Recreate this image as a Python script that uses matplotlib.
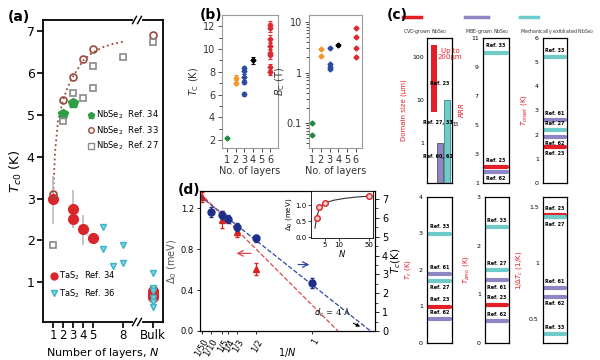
import numpy as np
import matplotlib.pyplot as plt
from matplotlib.lines import Line2D

plt.rcParams['font.family'] = ['DejaVu Sans']
plt.rcParams['mathtext.fontset'] = 'dejavusans'

# ---------------- panel (a) data ----------------
a_xticks = [1, 2, 3, 4, 5, 8, 11]
a_xticklabels = ['1', '2', '3', '4', '5', '8', 'Bulk']
a_break = 9.4

nb34_N = [2, 3]
nb34_T = [5.03, 5.28]
nb33_N = [1, 2, 3, 4, 5, 11]
nb33_T = [3.12, 5.35, 5.9, 6.33, 6.58, 6.92]
nb27_N = [1, 2, 3, 4, 5, 5, 8, 11]
nb27_T = [1.88, 4.86, 5.52, 5.4, 5.64, 6.17, 6.39, 6.74]
fit_N = [1.0, 1.2, 1.5, 2, 2.5, 3, 4, 5, 6, 7, 8]
fit_T = [3.0, 4.1, 4.85, 5.36, 5.68, 5.92, 6.3, 6.5, 6.62, 6.7, 6.75]
ta34_N = [1, 3, 3, 4, 5, 11, 11, 11]
ta34_T = [2.98, 2.74, 2.52, 2.27, 2.07, 0.78, 0.70, 0.65]
ta34_lo = [0.58, 0.44, 0.22, 0.37, 0.0, 0.08, 0.08, 0.08]
ta34_hi = [0.55, 0.46, 0.0, 0.33, 0.0, 0.08, 0.08, 0.08]
ta36_N = [6, 6, 7, 8, 8, 11, 11, 11, 11, 11, 11]
ta36_T = [2.33, 1.8, 1.38, 1.88, 1.46, 1.22, 0.87, 0.8, 0.63, 0.52, 0.40]

# ---------------- panel (b) data ----------------
b_layers = [1, 2, 3, 4, 6]
b_colors = ['#1e8c3a', '#f0962a', '#2a4ca0', '#000000', '#e0282f']
tc_vals = [[2.15], [7.5, 7.05], [8.3, 8.05, 7.55, 7.1, 6.05], [9.0],
           [12.1, 11.9, 10.9, 10.3, 9.65, 9.45, 8.45, 7.95]]
bc_vals = [[0.1, 0.058], [2.9, 2.1], [3.1, 1.45, 1.3, 1.16], [3.5],
           [7.8, 5.1, 3.0, 2.0]]

# ---------------- panel (d) data ----------------
d_xticks = [0.02, 0.1, 0.2, 0.25, 1/3, 0.5, 1.0]
d_xticklabels = ['1/50', '1/10', '1/5', '1/4', '1/3', '1/2', '1']
tc_invN = [0.1, 0.2, 0.25, 1/3, 0.5, 1.0]
tc_d = [6.3, 6.14, 5.93, 5.5, 4.92, 2.54]
tc_err = [0.25, 0.2, 0.2, 0.2, 0.18, 0.28]
gap_invN = [0.02, 0.2, 1/3, 0.5]
gap_d = [1.31, 1.09, 0.97, 0.61]
gap_err = [0.05, 0.08, 0.05, 0.06]
tc_fit_x = [0.0, 1.52]
tc_fit_y = [7.15, 0.0]
gap_fit_x = [0.0, 1.23]
gap_fit_y = [1.35, 0.0]
ins_pos = [2, 3, 5, 20.7]          # N = 2, 3, 5, 50 (broken axis)
ins_gap = [0.59, 0.94, 1.06, 1.28]
ins_fit_x = [1.4, 2, 3, 5, 8, 12, 16, 20.7]
ins_fit_y = [0.28, 0.6, 0.92, 1.07, 1.15, 1.21, 1.25, 1.28]

# ---------------- panel (c) data ----------------
RED, PUR, CYA = '#e31e26', '#8c86c4', '#6fcaca'
dom_bottom = [5.3, 0.12, 0.12]
dom_top = [190, 1.0, 10.0]
dom_colors = [RED, PUR, CYA]
c_panels = [
    # ylabel, ylim, yticks, values, colours, labels, label above?
    ('$RRR$', (1, 11), [1, 3, 5, 7, 9, 11],
     [10.0, 2.1, 1.76], [CYA, RED, PUR], ['Ref. 33', 'Ref. 23', 'Ref. 62'], [1, 1, 0]),
    ('$T_{onset}$ (K)', (0, 6), [0, 1, 2, 3, 4, 5, 6],
     [5.2, 2.6, 2.2, 1.9, 1.5], [CYA, PUR, CYA, PUR, RED],
     ['Ref. 33', 'Ref. 61', 'Ref. 27', 'Ref. 62', 'Ref. 23'], [1, 1, 1, 0, 0]),
    ('$T_c$ (K)', (0, 4), [0, 1, 2, 3, 4],
     [3.0, 1.9, 1.7, 1.0, 0.65], [CYA, PUR, CYA, RED, PUR],
     ['Ref. 33', 'Ref. 61', 'Ref. 27', 'Ref. 23', 'Ref. 62'], [1, 1, 0, 1, 1]),
    ('$T_{zero}$ (K)', (0, 3), [0, 1, 2, 3],
     [2.39, 1.5, 1.29, 0.79, 0.45], [CYA, CYA, PUR, RED, PUR],
     ['Ref. 33', 'Ref. 27', 'Ref. 61', 'Ref. 23', 'Ref. 62'], [1, 1, 0, 1, 1]),
    ('1/$\\Delta T_c$ (1/K)', (0.29, 1.59), [0.5, 1.0, 1.5],
     [1.43, 1.41, 0.78, 0.70, 0.37], [RED, CYA, PUR, PUR, CYA],
     ['Ref. 23', 'Ref. 27', 'Ref. 61', 'Ref. 62', 'Ref. 33'], [1, 0, 1, 0, 1]),
]

W, H = 600, 360
fig = plt.figure(figsize=(6, 3.6), dpi=100)


def px_axes(x0, y0, x1, y1, **kw):
    return fig.add_axes([x0 / W, 1 - y1 / H, (x1 - x0) / W, (y1 - y0) / H], **kw)


# ================= (a) =================
ax = px_axes(43, 20, 163, 322)
ax.plot(fit_N, fit_T, ':', color='#9b4a3a', lw=1.3)
ax.errorbar(ta34_N, ta34_T, yerr=[ta34_lo, ta34_hi], fmt='o', color='#d9262a',
            ms=7, ecolor='#bbbbbb', elinewidth=1.2, capsize=0, zorder=3)
ax.plot(nb34_N, nb34_T, 'p', color='#2e9e47', ms=7, zorder=4)
ax.plot(nb33_N, nb33_T, 'o', mfc='none', mec='#9b4a3a', mew=1.2, ms=5, zorder=4)
ax.plot(nb27_N, nb27_T, 's', mfc='none', mec='#8a8a8a', mew=1.2, ms=5, zorder=4)
ax.plot(ta36_N, ta36_T, 'v', mfc='#7fd3e0', mec='#3cb4c8', ms=5, zorder=4)
ax.set_xlim(0, 12)
ax.set_ylim(0.05, 7.27)
ax.set_xticks(a_xticks)
ax.set_xticklabels(a_xticklabels)
ax.set_yticks([1, 2, 3, 4, 5, 6, 7])
ax.tick_params(labelsize=9, width=1.2, length=4, pad=2)
ax.tick_params(axis='x', labelsize=8.5, pad=1)
for s in ax.spines.values():
    s.set_linewidth(1.3)
ax.set_xlabel('Number of layers, $N$', fontsize=8)
ax.xaxis.set_label_coords(0.5, -0.078)
ax.set_ylabel('$T_{c0}$ (K)', fontsize=9.5, labelpad=2)
# axis break marks
for yy in (0, 1):
    ax.plot([a_break - 0.25, a_break + 0.25], [yy, yy], color='white', lw=3,
            transform=ax.get_xaxis_transform(), clip_on=False, zorder=5)
    for dx in (-0.25, 0.25):
        ax.plot([a_break + dx - 0.2, a_break + dx + 0.2], [yy - 0.012, yy + 0.012],
                color='black', lw=1, transform=ax.get_xaxis_transform(),
                clip_on=False, zorder=6)
leg1 = ax.legend(handles=[
    Line2D([], [], ls='', marker='p', color='#2e9e47', ms=5),
    Line2D([], [], ls='', marker='o', mfc='none', mec='#9b4a3a', ms=4),
    Line2D([], [], ls='', marker='s', mfc='none', mec='#8a8a8a', ms=4)],
    labels=['NbSe$_2$  Ref. 34', 'NbSe$_2$  Ref. 33', 'NbSe$_2$  Ref. 27'],
    loc='upper left', bbox_to_anchor=(0.33, 0.72), frameon=False, fontsize=6,
    handletextpad=0.1, borderpad=0, labelspacing=0.35, handlelength=1)
ax.add_artist(leg1)
ax.legend(handles=[
    Line2D([], [], ls='', marker='o', color='#d9262a', ms=5),
    Line2D([], [], ls='', marker='v', mfc='#7fd3e0', mec='#3cb4c8', ms=4)],
    labels=['TaS$_2$  Ref. 34', 'TaS$_2$  Ref. 36'],
    loc='lower left', bbox_to_anchor=(0.02, 0.06), frameon=False, fontsize=6,
    handletextpad=0.1, borderpad=0, labelspacing=0.6, handlelength=1)
fig.text(8 / W, 1 - 17 / H, '(a)', fontsize=10, fontweight='bold', va='center')

# ================= (b) =================
grey = '#9a9a9a'
axb1 = px_axes(222, 15, 278, 148)
axb2 = px_axes(309, 15, 362, 148)
for axb, vals in ((axb1, tc_vals), (axb2, bc_vals)):
    for n, c, v in zip(b_layers, b_colors, vals):
        axb.errorbar([n] * len(v), v, yerr=np.array(v) * 0.03, fmt='D', color=c,
                     ms=2.5, elinewidth=0.8, capsize=1.2, capthick=0.8)
    axb.set_xticks([1, 2, 3, 4, 5, 6])
    axb.set_xticklabels(['1', '2', '3', '4', '5', '6'])
    axb.tick_params(labelsize=7, colors='#333333', length=3, width=0.6, pad=2)
    axb.tick_params(which='minor', length=2, width=0.5)
    for s in axb.spines.values():
        s.set_color(grey)
        s.set_linewidth(0.8)
    axb.set_xlabel('No. of layers', fontsize=7, color='#333333', labelpad=1)
axb1.set_xlim(0.4, 6.9)
axb1.set_ylim(1.3, 13)
axb1.set_yticks([2, 4, 6, 8, 10, 12])
axb1.set_yticks(np.arange(2, 13, 1), minor=True)
axb1.set_ylabel('$T_{\\rm C}$ (K)', fontsize=7, color='#333333', labelpad=1)
axb2.set_yscale('log')
axb2.set_xlim(0.65, 6.7)
axb2.set_ylim(0.032, 13.8)
axb2.set_yticks([0.1, 1, 10])
axb2.set_yticklabels(['0.1', '1', '10'])
axb2.set_ylabel('$B_{\\rm C}$ (T)', fontsize=7, color='#333333', labelpad=0)
fig.text(200 / W, 1 - 15 / H, '(b)', fontsize=10, fontweight='bold', va='center')

# ================= (d) =================
axd = px_axes(200, 191, 375, 331)
axd2 = axd.twinx()
axd.plot(gap_fit_x, gap_fit_y, '--', color='#e0484b', lw=0.9)
axd2.plot(tc_fit_x, tc_fit_y, '--', color='#3048a0', lw=0.9)
axd.errorbar(gap_invN, gap_d, yerr=gap_err, fmt='^', color='#e02020', ms=5,
             elinewidth=0.8, capsize=1.5, zorder=4)
axd2.errorbar(tc_invN, tc_d, yerr=tc_err, fmt='o', color='#1e2f8a', ms=5,
              elinewidth=0.8, capsize=1.5, zorder=3)
axd.set_xlim(0, 1.56)
axd.set_ylim(0, 1.37)
axd2.set_ylim(0, 7.42)
axd.set_xticks(d_xticks)
axd.set_xticklabels(d_xticklabels, rotation=60, fontsize=4.5, ha='right',
                    rotation_mode='anchor')
axd.set_yticks([0.0, 0.4, 0.8, 1.2])
axd.set_yticklabels(['0.0', '0.4', '0.8', '1.2'])
axd.tick_params(labelsize=6, length=2.5, width=0.6, pad=2)
axd2.set_yticks(range(8))
axd2.set_yticks(np.arange(0, 7.5, 0.5), minor=True)
axd2.tick_params(labelsize=7, length=3, width=0.6, pad=2)
axd2.tick_params(which='minor', length=1.8, width=0.5)
axd.set_xlabel('1/$N$', fontsize=7)
axd.xaxis.set_label_coords(0.5, -0.11)
axd.set_ylabel('$\\Delta_0$ (meV)', fontsize=7, labelpad=1, color='#555555')
axd2.set_ylabel('$T_c$(K)', fontsize=7.5, labelpad=1)
axd.annotate('', xy=(0.3, 0.76), xytext=(0.48, 0.76),
             arrowprops=dict(arrowstyle='->', color='#e0484b', lw=0.9))
axd.annotate('', xy=(1.0, 0.65), xytext=(0.85, 0.65),
             arrowprops=dict(arrowstyle='->', color='#3048a0', lw=0.9))
axd.annotate('$d_c$ = 4 Å', xy=(1.45, 0.03), xytext=(1.02, 0.15), fontsize=6,
             fontfamily='DejaVu Serif',
             arrowprops=dict(arrowstyle='-|>', color='black', lw=0.8,
                             mutation_scale=5))
fig.text(178 / W, 1 - 190 / H, '(d)', fontsize=10, fontweight='bold', va='center')

ins = px_axes(311, 191, 373, 238)
ins.plot(ins_fit_x, ins_fit_y, color='#333333', lw=0.8)
ins.plot(ins_pos, ins_gap, 'o', mfc='#f5d0d0', mec='#e02020', mew=1, ms=4)
ins.set_xlim(0, 22)
ins.set_ylim(-0.03, 1.44)
ins.set_xticks([5, 10, 20.7])
ins.set_xticklabels(['5', '10', '50'])
ins.set_yticks([0.0, 0.5, 1.0])
ins.set_yticklabels(['0.0', '0.5', '1.0'])
ins.tick_params(labelsize=5, length=2, width=0.5, pad=1)
ins.set_xlabel('$N$', fontsize=6, labelpad=0)
ins.set_ylabel('$\\Delta_0$ (meV)', fontsize=5, labelpad=1)
for s in ins.spines.values():
    s.set_linewidth(0.6)

# ================= (c) =================
fig.text(387 / W, 1 - 15 / H, '(c)', fontsize=10, fontweight='bold', va='center')
for (x0, x1), col, lab in zip([(403, 421), (465, 488), (520, 538)], [RED, PUR, CYA],
                              ['CVD-grown NbSe$_2$', 'MBE-grown NbSe$_2$',
                               'Mechanically exfoliated NbSe$_2$']):
    fig.add_artist(Line2D([x0 / W, x1 / W], [1 - 17 / H] * 2, color=col, lw=2.5))
    fig.text(x0 / W, 1 - 31 / H, lab, fontsize=3.4, color='#333333', va='center')

# domain size bars
axc = px_axes(427, 38, 452, 183)
axc.bar([0, 1, 2], np.array(dom_top) - np.array(dom_bottom), bottom=dom_bottom,
        width=0.92, color=dom_colors, edgecolor=['none', '#555555', '#3a8a8a'],
        linewidth=0.6)
axc.set_yscale('log')
axc.set_xlim(-1, 2.8)
axc.set_ylim(0.12, 280)
axc.set_xticks([])
axc.set_yticks([1, 10, 100])
axc.set_yticklabels(['1', '10', '100'])
axc.minorticks_off()
axc.tick_params(labelsize=4.5, length=0, pad=2)
axc.set_ylabel('Domain size (μm)', fontsize=5, color=RED, labelpad=4)
axc.text(2.5, 120, 'Up to\n200μm', color=RED, fontsize=5, ha='center', va='center',
         linespacing=1.0)
axc.text(1.0, 25, 'Ref. 23', fontsize=3.5, fontweight='bold', ha='center', va='center')
axc.text(0.6, 3.0, 'Ref. 27, 33', fontsize=3.5, fontweight='bold', ha='center',
         va='center')
axc.text(3.4, 2.8, '15', fontsize=3.5, ha='center', va='center')
axc.text(0.6, 0.5, 'Ref. 60, 62', fontsize=3.5, fontweight='bold', ha='center',
         va='center')
for s in axc.spines.values():
    s.set_linewidth(0.9)

c_boxes = [(483, 38, 509, 183), (543, 38, 567, 183),
           (427, 197, 452, 343), (485, 197, 509, 343), (543, 197, 567, 343)]
for box, (ylab, ylim, yt, vals, cols, labs, above) in zip(c_boxes, c_panels):
    a = px_axes(*box)
    span = ylim[1] - ylim[0]
    for v, c, lb, up in zip(vals, cols, labs, above):
        a.plot([0.08, 0.92], [v, v], color=c, lw=3, solid_capstyle='round')
        a.text(0.5, v + (0.028 if up else -0.03) * span, lb, fontsize=3.5,
               fontweight='bold', ha='center', va='bottom' if up else 'top')
    a.set_xlim(0, 1)
    a.set_ylim(*ylim)
    a.set_xticks([])
    a.set_yticks(yt)
    a.set_yticklabels([('%g' % t) if t != int(t) or ylim[1] < 2 else '%d' % t for t in yt])
    a.tick_params(labelsize=4.5, length=0, pad=3)
    a.set_ylabel(ylab, fontsize=5, color=RED, labelpad=4)
    for s in a.spines.values():
        s.set_linewidth(0.9)

fig.savefig('out.png', dpi=100)
